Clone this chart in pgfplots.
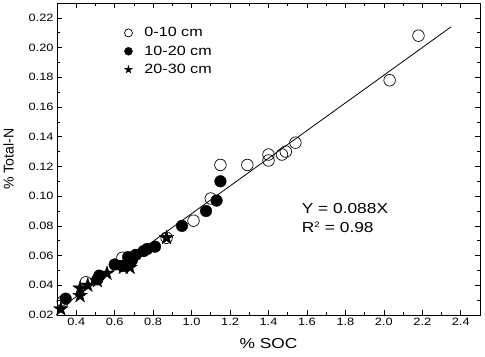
\documentclass[border=0pt]{standalone}
\usepackage{pgfplots}
\pgfplotsset{compat=1.18}
\usepackage{fontspec}
\setmainfont[FakeStretch=1.2]{Liberation Sans}
\newfontfamily\plainfont{Liberation Sans}
\pgfdeclareplotmark{fstar}{%
  \pgfpathmoveto{\pgfqpoint{0pt}{\pgfplotmarksize}}%
  \pgfpathlineto{\pgfpoint{-0.2245\pgfplotmarksize}{0.309\pgfplotmarksize}}%
  \pgfpathlineto{\pgfpoint{-0.951\pgfplotmarksize}{0.309\pgfplotmarksize}}%
  \pgfpathlineto{\pgfpoint{-0.363\pgfplotmarksize}{-0.118\pgfplotmarksize}}%
  \pgfpathlineto{\pgfpoint{-0.588\pgfplotmarksize}{-0.809\pgfplotmarksize}}%
  \pgfpathlineto{\pgfpoint{0pt}{-0.382\pgfplotmarksize}}%
  \pgfpathlineto{\pgfpoint{0.588\pgfplotmarksize}{-0.809\pgfplotmarksize}}%
  \pgfpathlineto{\pgfpoint{0.363\pgfplotmarksize}{-0.118\pgfplotmarksize}}%
  \pgfpathlineto{\pgfpoint{0.951\pgfplotmarksize}{0.309\pgfplotmarksize}}%
  \pgfpathlineto{\pgfpoint{0.2245\pgfplotmarksize}{0.309\pgfplotmarksize}}%
  \pgfpathclose
  \pgfusepathqfillstroke}
\begin{document}
\begin{tikzpicture}
\begin{axis}[
  scale only axis,
  width=423bp, height=312bp,
  xmin=0.3, xmax=2.5, ymin=0.02, ymax=0.23,
  xtick={0.4,0.6,...,2.41},
  ytick={0.02,0.04,...,0.221},
  minor x tick num=1, minor y tick num=1,
  tick align=inside, tick pos=both,
  major tick length=5bp, minor tick length=3bp,
  axis line style={line width=0.9pt},
  every tick/.style={black, line width=0.7pt},
  /pgf/number format/assume math mode=true,
  xticklabel style={/pgf/number format/.cd, fixed, fixed zerofill, precision=1},
  yticklabel style={/pgf/number format/.cd, fixed, fixed zerofill, precision=2},
  tick label style={font=\fontsize{10.7}{12}\selectfont},
  xlabel={\% SOC}, ylabel={\% Total-N},
  xlabel style={font=\fontsize{14.5}{16}\selectfont, yshift=-6bp},
  ylabel style={font=\plainfont\fontsize{14.2}{16}\selectfont, yshift=8bp},
  legend style={draw=none, fill=none, at={(0.152,0.935)}, anchor=north west,
    font=\fontsize{13.5}{15}\selectfont, row sep=3.5bp, column sep=10bp},
  legend image post style={mark size=4bp},
  legend cell align=left,
]
\addplot[black, line width=0.8pt, forget plot] coordinates {(0.3,0.023) (2.35,0.214)};
\addplot[only marks, mark=o, mark size=5.8bp, black, line width=0.7pt] coordinates {
(2.18,0.208) (2.03,0.178) (1.54,0.136) (1.49,0.130) (1.47,0.128) (1.40,0.128)
(1.40,0.124) (1.29,0.121) (1.15,0.121) (1.10,0.0984) (1.01,0.0835) (0.87,0.072)
(0.64,0.0585) (0.45,0.042) (0.33,0.029)
};
\addlegendentry{0-10 cm}
\addplot[only marks, mark=*, mark size=5.8bp, black] coordinates {
(1.15,0.110) (1.13,0.097) (1.075,0.090) (0.95,0.080) (0.81,0.066) (0.77,0.0645)
(0.75,0.063) (0.71,0.0605) (0.67,0.059) (0.69,0.057) (0.60,0.054) (0.64,0.053)
(0.52,0.0465) (0.51,0.044) (0.345,0.031)
};
\addlegendentry{10-20 cm}
\addplot[only marks, mark=fstar, mark size=7.5bp, black, fill=black, line width=0.4pt] coordinates {
(0.87,0.072) (0.68,0.052) (0.645,0.052) (0.66,0.055) (0.56,0.048) (0.51,0.043)
(0.46,0.040) (0.42,0.038) (0.42,0.033) (0.32,0.024)
};
\addlegendentry{20-30 cm}
\node[anchor=west, font=\fontsize{14.5}{16}\selectfont, align=left] at (axis cs:1.555,0.085)
  {Y = 0.088X\\[3pt] R\textsuperscript{\fontsize{8}{9}\selectfont 2} = 0.98};
\end{axis}
\path (current axis.south west) ++(-57bp,-42bp);
\path (current axis.north east) ++(5bp,3bp);
\end{tikzpicture}
\end{document}
